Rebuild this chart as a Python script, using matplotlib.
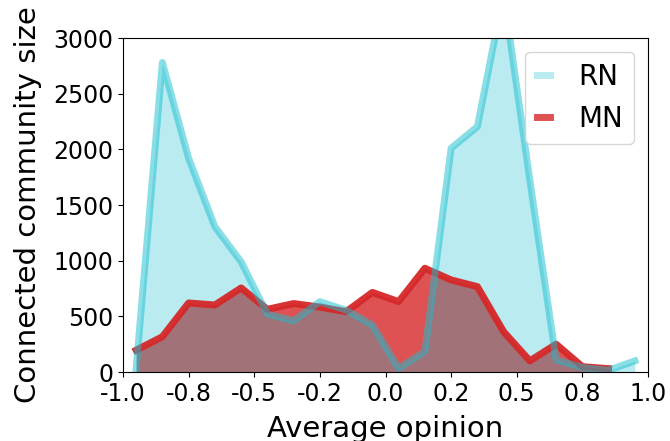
import numpy as np
import matplotlib
matplotlib.use("Agg")
import matplotlib.pyplot as plt
from matplotlib.lines import Line2D

# Bin centres of the average-opinion histogram (20 bins over [-1, 1])
opinion_bins = [-0.95, -0.85, -0.75, -0.65, -0.55, -0.45, -0.35, -0.25, -0.15, -0.05,
                0.05, 0.15, 0.25, 0.35, 0.45, 0.55, 0.65, 0.75, 0.85, 0.95]

# Connected community size per bin
rn_sizes = [30, 2780, 1920, 1305, 990, 520, 460, 632, 555, 422,
            33, 185, 2010, 2204, 3400, 1720, 110, 40, 15, 100]
mn_sizes = [196, 317, 620, 602, 755, 563, 615, 583, 542, 715,
            632, 932, 827, 767, 362, 100, 250, 48, 30]

x_ticks = [-1.0, -0.75, -0.5, -0.25, 0.0, 0.25, 0.5, 0.75, 1.0]
x_tick_labels = ["-1.0", "-0.8", "-0.5", "-0.2", "0.0", "0.2", "0.5", "0.8", "1.0"]
y_ticks = [0, 500, 1000, 1500, 2000, 2500, 3000]

RN_COLOR = "#17becf"
MN_COLOR = "#d62728"


def main():
    fig = plt.figure(figsize=(6.7, 4.41), dpi=100)
    ax = fig.add_axes([123 / 670, 1 - 372 / 441, 525 / 670, 334 / 441])

    x_rn = np.array(opinion_bins)
    x_mn = np.array(opinion_bins[:len(mn_sizes)])

    # MN first so the RN fill sits over it
    ax.fill_between(x_mn, 0, mn_sizes, color=MN_COLOR, alpha=0.8, linewidth=0)
    ax.plot(x_mn, mn_sizes, color=MN_COLOR, linewidth=5, alpha=0.95)
    ax.fill_between(x_rn, 0, rn_sizes, color=RN_COLOR, alpha=0.3, linewidth=0)
    ax.plot(x_rn, rn_sizes, color=RN_COLOR, linewidth=5, alpha=0.5)

    ax.set_xlim(-1.0, 1.0)
    ax.set_ylim(0, 3000)
    ax.set_xticks(x_ticks)
    ax.set_xticklabels(x_tick_labels)
    ax.set_yticks(y_ticks)
    ax.tick_params(labelsize=17)

    ax.set_xlabel("Average opinion", fontsize=21, labelpad=7)
    ax.set_ylabel("Connected community size", fontsize=21, labelpad=8)

    handles = [
        Line2D([0], [0], color=RN_COLOR, alpha=0.3, linewidth=5),
        Line2D([0], [0], color=MN_COLOR, alpha=0.8, linewidth=5),
    ]
    ax.legend(handles, ["RN", "MN"], loc="upper right", fontsize=20,
              handlelength=0.5, handletextpad=1.0)

    fig.savefig("out.png", dpi=100)


if __name__ == "__main__":
    main()
